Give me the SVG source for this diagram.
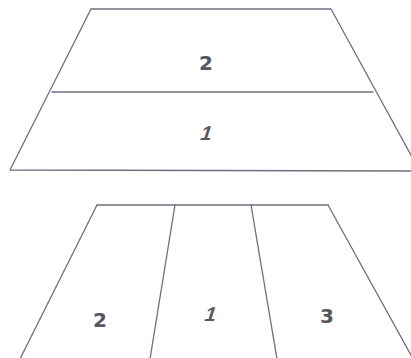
<svg xmlns="http://www.w3.org/2000/svg" width="411" height="358" viewBox="0 0 411 358">
<style>
.ln{fill:none;stroke:#6e6f80;stroke-width:1.3;stroke-linecap:round;stroke-linejoin:round}
.lb{font-family:"DejaVu Sans","Liberation Sans",sans-serif;font-size:20px;font-weight:bold;fill:#55565e;text-anchor:middle}
.one{font-family:"Liberation Sans",sans-serif;font-size:20px;font-weight:bold;fill:#55565e;text-anchor:middle}
</style>
<rect width="411" height="358" fill="#ffffff"/>
<g id="court-top">
<path class="ln" d="M91,9 L331,9 L412,157"/>
<path class="ln" d="M91,9 L10,170 L412,171"/>
<line class="ln" x1="52" y1="92" x2="373" y2="92"/>
<text class="lb" x="206" y="70">2</text>
<text class="one" x="205" y="140" transform="skewX(-18) translate(45,0)">1</text>
</g>
<g id="court-bottom">
<path class="ln" d="M97,205 L328,205"/>
<line class="ln" x1="97" y1="205" x2="20" y2="359"/>
<line class="ln" x1="328" y1="205" x2="412" y2="357"/>
<line class="ln" x1="175" y1="205" x2="150" y2="359"/>
<line class="ln" x1="251" y1="205" x2="277" y2="359"/>
<text class="lb" x="100" y="327">2</text>
<text class="one" x="210" y="321" transform="skewX(-18) translate(103,0)">1</text>
<text class="lb" x="327" y="323">3</text>
</g>
</svg>
